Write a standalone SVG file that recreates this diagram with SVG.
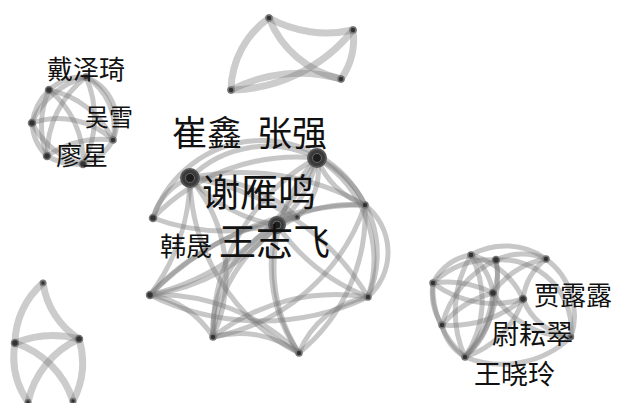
<svg xmlns="http://www.w3.org/2000/svg" width="617" height="403" viewBox="0 0 617 403">
<style>
.e{fill:none;stroke:#7a7a7a;stroke-opacity:.42;stroke-width:5;stroke-linecap:round}
.w{stroke-width:7;stroke-opacity:.38}
.n{fill:#333;stroke:#777;stroke-width:1.5}
.b{fill:#3a3a3a;stroke:#555;stroke-width:2}
.bc{fill:#1e1e1e;stroke:#666;stroke-width:1}
.t{font-family:"Noto Sans CJK SC","Noto Sans CJK JP",sans-serif;fill:#111}
</style>
<rect width="617" height="403" fill="#fff"/>
<g id="connectors">
<!-- top triangle -->
<path class="e w" d="M269 18 A120 120 0 0 0 353 30"/>
<path class="e w" d="M269 18 A100 100 0 0 0 341 79"/>
<path class="e w" d="M353 30 A70 70 0 0 1 341 79"/>
<path class="e w" d="M231 90 A90 90 0 0 1 269 18"/>
<path class="e w" d="M231 90 A160 160 0 0 0 353 30"/>
<path class="e w" d="M231 90 A150 150 0 0 1 341 79"/>
<!-- top-left cluster -->
<path class="e" d="M49 90 A50 50 0 0 1 86 77"/>
<path class="e" d="M49 90 A60 60 0 0 0 32 123"/>
<path class="e" d="M49 90 A90 90 0 0 1 113 140"/>
<path class="e" d="M49 90 A90 90 0 0 0 47 156"/>
<path class="e" d="M49 90 A90 90 0 0 1 83 164"/>
<path class="e" d="M86 77 A80 80 0 0 0 32 123"/>
<path class="e" d="M86 77 A60 60 0 0 1 113 140"/>
<path class="e" d="M86 77 A100 100 0 0 0 47 156"/>
<path class="e" d="M86 77 A100 100 0 0 1 83 164"/>
<path class="e" d="M32 123 A80 80 0 0 1 113 140"/>
<path class="e" d="M32 123 A50 50 0 0 0 47 156"/>
<path class="e" d="M32 123 A80 80 0 0 0 83 164"/>
<path class="e" d="M113 140 A100 100 0 0 0 47 156"/>
<path class="e" d="M113 140 A50 50 0 0 1 83 164"/>
<path class="e" d="M47 156 A60 60 0 0 0 83 164"/>
<path class="e" d="M86 77 A48 48 0 0 1 113 140"/>
<!-- central cluster -->
<path class="e" d="M190 178 A110 110 0 0 1 317 158"/>
<path class="e" d="M153 218 A115 115 0 0 1 365 205"/>
<path class="e" d="M153 218 A60 60 0 0 1 190 178"/>
<path class="e" d="M153 218 A200 200 0 0 1 317 158"/>
<path class="e" d="M153 218 A200 200 0 0 0 297 217"/>
<path class="e" d="M150 295 A200 200 0 0 0 190 178"/>
<path class="e" d="M150 295 A250 250 0 0 0 317 158"/>
<path class="e" d="M150 295 A200 200 0 0 0 277 225"/>
<path class="e" d="M150 295 A300 300 0 0 1 365 205"/>
<path class="e" d="M150 295 A250 250 0 0 0 368 297"/>
<path class="e" d="M150 295 A90 90 0 0 1 213 337"/>
<path class="e" d="M150 295 A250 250 0 0 1 297 217"/>
<path class="e" d="M213 337 A200 200 0 0 0 365 205"/>
<path class="e" d="M213 337 A200 200 0 0 1 317 158"/>
<path class="e" d="M213 337 A120 120 0 0 1 277 225"/>
<path class="e" d="M213 337 A150 150 0 0 0 190 178"/>
<path class="e" d="M213 337 A200 200 0 0 1 368 297"/>
<path class="e" d="M213 337 A100 100 0 0 1 299 353"/>
<path class="e" d="M299 353 A180 180 0 0 0 365 205"/>
<path class="e" d="M299 353 A90 90 0 0 1 368 297"/>
<path class="e" d="M299 353 A200 200 0 0 1 190 178"/>
<path class="e" d="M299 353 A150 150 0 0 1 277 225"/>
<path class="e" d="M299 353 A160 160 0 0 1 317 158"/>
<path class="e" d="M299 353 A200 200 0 0 0 150 295"/>
<path class="e" d="M368 297 A60 60 0 0 0 365 205"/>
<path class="e" d="M368 297 A120 120 0 0 0 317 158"/>
<path class="e" d="M368 297 A200 200 0 0 1 277 225"/>
<path class="e" d="M368 297 A250 250 0 0 0 190 178"/>
<path class="e" d="M365 205 A80 80 0 0 1 317 158"/>
<path class="e" d="M365 205 A150 150 0 0 0 277 225"/>
<path class="e" d="M365 205 A250 250 0 0 0 190 178"/>
<path class="e" d="M190 178 A150 150 0 0 0 277 225"/>
<path class="e" d="M317 158 A120 120 0 0 1 277 225"/>
<path class="e" d="M317 158 A106 106 0 0 1 368 297"/>
<path class="e" d="M317 158 A60 60 0 0 1 297 217"/>
<path class="e" d="M190 178 A150 150 0 0 1 297 217"/>
<path class="e" d="M213 337 A150 150 0 0 1 297 217"/>
<!-- bottom-right cluster -->
<path class="e" d="M471 255 A50 50 0 0 0 433 283"/>
<path class="e" d="M433 283 A60 60 0 0 0 442 325"/>
<path class="e" d="M442 325 A50 50 0 0 0 465 357"/>
<path class="e" d="M471 255 A100 100 0 0 1 465 357"/>
<path class="e" d="M471 255 A110 110 0 0 0 465 357"/>
<path class="e" d="M433 283 A90 90 0 0 0 465 357"/>
<path class="e" d="M465 357 A80 80 0 0 0 493 293"/>
<path class="e" d="M471 255 A60 60 0 0 1 493 293"/>
<path class="e" d="M471 255 A80 80 0 0 1 523 299"/>
<path class="e" d="M433 283 A100 100 0 0 1 493 293"/>
<path class="e" d="M433 283 A100 100 0 0 0 523 299"/>
<path class="e" d="M442 325 A100 100 0 0 1 493 293"/>
<path class="e" d="M442 325 A110 110 0 0 0 523 299"/>
<path class="e" d="M496 260 A50 50 0 0 1 493 293"/>
<path class="e" d="M496 260 A80 80 0 0 0 433 283"/>
<path class="e" d="M496 260 A100 100 0 0 0 442 325"/>
<path class="e" d="M496 260 A110 110 0 0 1 465 357"/>
<path class="e" d="M496 260 A60 60 0 0 1 546 259"/>
<path class="e" d="M471 255 A70 70 0 0 1 546 259"/>
<path class="e" d="M546 259 A80 80 0 0 0 493 293"/>
<path class="e" d="M546 259 A60 60 0 0 0 523 299"/>
<path class="e" d="M546 259 A70 70 0 0 1 571 337"/>
<path class="e" d="M496 260 A70 70 0 0 1 571 337"/>
<path class="e" d="M493 293 A90 90 0 0 0 571 337"/>
<path class="e" d="M523 299 A60 60 0 0 0 571 337"/>
<path class="e" d="M571 337 A100 100 0 0 1 465 357"/>
<path class="e" d="M523 299 A90 90 0 0 1 465 357"/>
<path class="e" d="M493 293 A120 120 0 0 1 465 357"/>
<!-- bottom-left cluster -->
<path class="e w" d="M43 283 A80 80 0 0 0 15 343"/>
<path class="e w" d="M43 283 A80 80 0 0 0 79 339"/>
<path class="e w" d="M15 343 A100 100 0 0 1 79 339"/>
<path class="e w" d="M15 343 A90 90 0 0 1 73 401"/>
<path class="e w" d="M79 339 A90 90 0 0 0 28 402"/>
<path class="e w" d="M15 343 A80 80 0 0 0 28 402"/>
<path class="e w" d="M79 339 A80 80 0 0 1 73 401"/>
</g>
<g id="node-top-1"><circle class="n" cx="269" cy="18" r="3"/></g>
<g id="node-top-2"><circle class="n" cx="353" cy="30" r="3"/></g>
<g id="node-top-3"><circle class="n" cx="341" cy="79" r="3"/></g>
<g id="node-top-4"><circle class="n" cx="231" cy="90" r="3"/></g>
<g id="node-tl-1"><circle class="n" cx="49" cy="90" r="3.5"/></g>
<g id="node-daizeqi"><circle class="n" cx="86" cy="77" r="3"/><text class="t" x="47" y="79" font-size="26">戴泽琦</text></g>
<g id="node-tl-3"><circle class="n" cx="32" cy="123" r="3.5"/></g>
<g id="node-wuxue"><circle class="n" cx="113" cy="140" r="3"/><text class="t" x="85" y="126" font-size="24">吴雪</text></g>
<g id="node-tl-5"><circle class="n" cx="47" cy="156" r="3.5"/></g>
<g id="node-liaoxing"><circle class="n" cx="83" cy="164" r="3.5"/><text class="t" x="56" y="165" font-size="26">廖星</text></g>
<g id="node-cuixin"><circle class="b" cx="190" cy="178" r="9"/><circle class="bc" cx="190" cy="178" r="4.5"/><text class="t" x="172" y="146" font-size="35">崔鑫</text></g>
<g id="node-zhangqiang"><circle class="b" cx="317" cy="158" r="9"/><circle class="bc" cx="317" cy="158" r="4.5"/><text class="t" x="257" y="146" font-size="35">张强</text></g>
<g id="node-xieyanming"><circle class="b" cx="277" cy="225" r="8"/><circle class="bc" cx="277" cy="225" r="4"/><text class="t" x="202" y="206" font-size="38">谢雁鸣</text></g>
<g id="node-hansheng"><circle class="n" cx="153" cy="218" r="3.5"/><text class="t" x="160" y="256" font-size="26">韩晟</text></g>
<g id="node-wangzhifei"><circle class="n" cx="297" cy="217" r="2.5"/><text class="t" x="219" y="256" font-size="37">王志飞</text></g>
<g id="node-c-e"><circle class="n" cx="365" cy="205" r="3"/></g>
<g id="node-c-g"><circle class="n" cx="150" cy="295" r="3.5"/></g>
<g id="node-c-h"><circle class="n" cx="368" cy="297" r="3"/></g>
<g id="node-c-i"><circle class="n" cx="213" cy="337" r="3"/></g>
<g id="node-c-j"><circle class="n" cx="299" cy="353" r="3"/></g>
<g id="node-br-1"><circle class="n" cx="471" cy="255" r="3"/></g>
<g id="node-br-2"><circle class="n" cx="496" cy="260" r="3.5"/></g>
<g id="node-br-3"><circle class="n" cx="546" cy="259" r="3"/></g>
<g id="node-br-4"><circle class="n" cx="433" cy="283" r="3"/></g>
<g id="node-br-5"><circle class="n" cx="493" cy="293" r="3.5"/></g>
<g id="node-jialulu"><circle class="n" cx="523" cy="299" r="3.5"/><text class="t" x="534" y="305" font-size="26">贾露露</text></g>
<g id="node-br-7"><circle class="n" cx="442" cy="325" r="3"/></g>
<g id="node-br-8"><circle class="n" cx="465" cy="357" r="3"/></g>
<g id="node-weiyuncui"><circle class="n" cx="571" cy="337" r="2.5"/><text class="t" x="492" y="344" font-size="27">尉耘翠</text></g>
<g id="node-wangxiaoling"><text class="t" x="474" y="384" font-size="27">王晓玲</text></g>
<g id="node-bl-1"><circle class="n" cx="43" cy="283" r="2.5"/></g>
<g id="node-bl-2"><circle class="n" cx="15" cy="343" r="3.5"/></g>
<g id="node-bl-3"><circle class="n" cx="79" cy="339" r="3.5"/></g>
<g id="node-bl-4"><circle class="n" cx="28" cy="402" r="2.5"/></g>
<g id="node-bl-5"><circle class="n" cx="73" cy="401" r="2.5"/></g>
</svg>
